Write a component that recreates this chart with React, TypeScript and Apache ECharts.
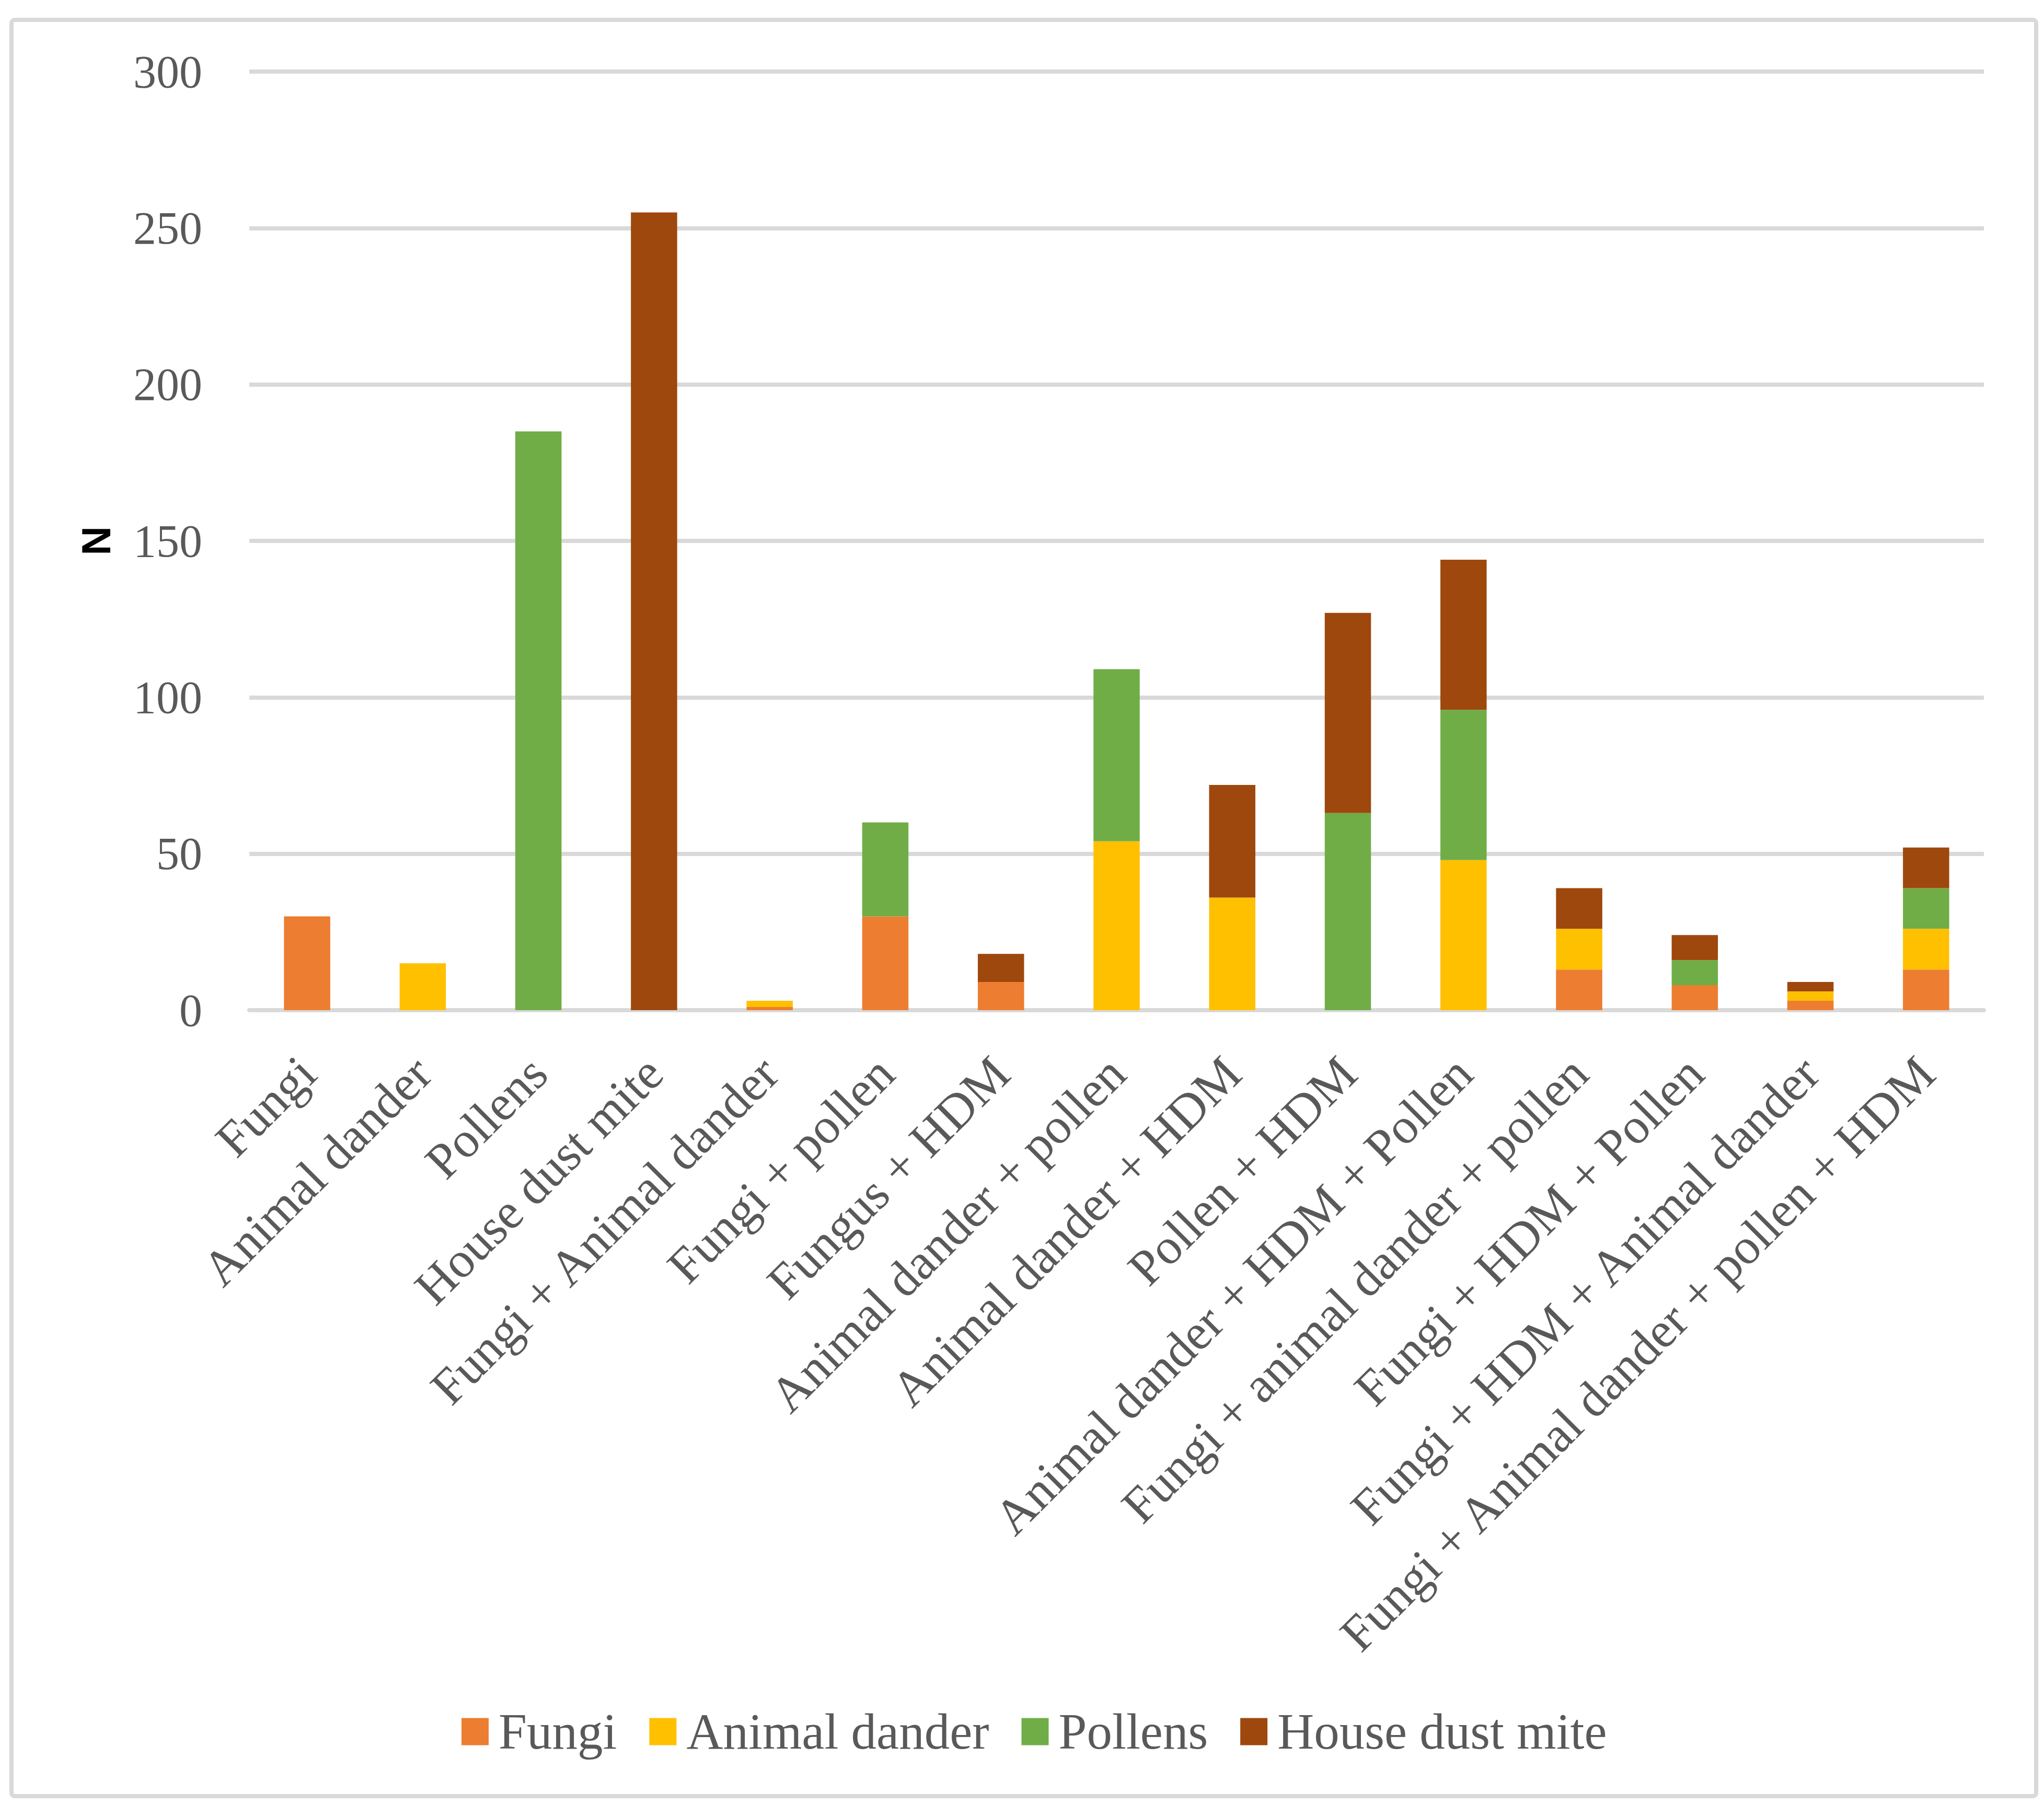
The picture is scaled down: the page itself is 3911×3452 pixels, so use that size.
import React, { useEffect, useRef } from 'react';
import * as echarts from 'echarts';

const categories = [
  'Fungi',
  'Animal dander',
  'Pollens',
  'House dust mite',
  'Fungi + Animal dander',
  'Fungi + pollen',
  'Fungus + HDM',
  'Animal dander + pollen',
  'Animal dander + HDM',
  'Pollen + HDM',
  'Animal dander + HDM + Pollen',
  'Fungi + animal dander + pollen',
  'Fungi + HDM + Pollen',
  'Fungi + HDM + Animal dander',
  'Fungi + Animal dander + pollen + HDM',
];

const fungi = [30, 0, 0, 0, 1, 30, 9, 0, 0, 0, 0, 13, 8, 3, 13];
const animalDander = [0, 15, 0, 0, 2, 0, 0, 54, 36, 0, 48, 13, 0, 3, 13];
const pollens = [0, 0, 185, 0, 0, 30, 0, 55, 0, 63, 48, 0, 8, 0, 13];
const houseDustMite = [0, 0, 0, 255, 0, 0, 9, 0, 36, 64, 48, 13, 8, 3, 13];

const yTicks = { min: 0, max: 300, interval: 50 };

const seriesList = [
  { name: 'Fungi', data: fungi, color: '#ED7D31' },
  { name: 'Animal dander', data: animalDander, color: '#FFC000' },
  { name: 'Pollens', data: pollens, color: '#70AD47' },
  { name: 'House dust mite', data: houseDustMite, color: '#9E480E' },
];

const W = 3911;
const H = 3452;
const serif = 'Liberation Serif';
const textColor = '#595959';
const gridColor = '#D9D9D9';

const App: React.FC = () => {
  const chartRef = useRef<HTMLDivElement>(null);

  useEffect(() => {
    if (!chartRef.current) return;
    const chart = echarts.init(chartRef.current, undefined, { renderer: 'svg' });

    const option: echarts.EChartsOption = {
      animation: false,
      backgroundColor: '#ffffff',
      graphic: [
        {
          type: 'rect',
          shape: { x: 22, y: 38, width: 3874, height: 3399, r: 6 },
          style: { fill: 'none', stroke: gridColor, lineWidth: 8 },
          silent: true,
        },
      ],
      grid: {
        left: 477,
        right: W - 3796,
        top: 137,
        bottom: H - 1933,
      },
      legend: {
        data: seriesList.map((s) => s.name),
        left: 878,
        top: 3260,
        icon: 'rect',
        itemWidth: 52,
        itemHeight: 52,
        itemGap: 62,
        textStyle: {
          fontFamily: serif,
          fontSize: 97,
          color: textColor,
          padding: [0, 0, 0, 14],
        },
      },
      xAxis: {
        type: 'category',
        data: categories,
        axisLine: { lineStyle: { color: gridColor, width: 8 } },
        axisTick: { show: false },
        axisLabel: {
          interval: 0,
          rotate: 45,
          margin: 105,
          fontFamily: serif,
          fontSize: 96,
          color: textColor,
        },
      },
      yAxis: {
        type: 'value',
        min: yTicks.min,
        max: yTicks.max,
        interval: yTicks.interval,
        name: 'N',
        nameLocation: 'middle',
        nameRotate: 90,
        nameGap: 255,
        nameTextStyle: {
          fontFamily: 'Liberation Sans',
          fontWeight: 'bold',
          fontSize: 77,
          color: '#000000',
        },
        axisLine: { show: false },
        axisTick: { show: false },
        splitLine: { lineStyle: { color: gridColor, width: 8 } },
        axisLabel: {
          margin: 90,
          fontFamily: serif,
          fontSize: 88,
          color: textColor,
        },
      },
      series: seriesList.map((s) => ({
        name: s.name,
        type: 'bar',
        stack: 'total',
        barWidth: '40%',
        data: s.data,
        itemStyle: { color: s.color },
      })),
    };

    chart.setOption(option);

    return () => {
      chart.dispose();
    };
  }, []);

  return (
    <div
      ref={chartRef}
      style={{ position: 'fixed', left: 0, top: 0, width: `${W}px`, height: `${H}px` }}
    />
  );
};

export default App;
